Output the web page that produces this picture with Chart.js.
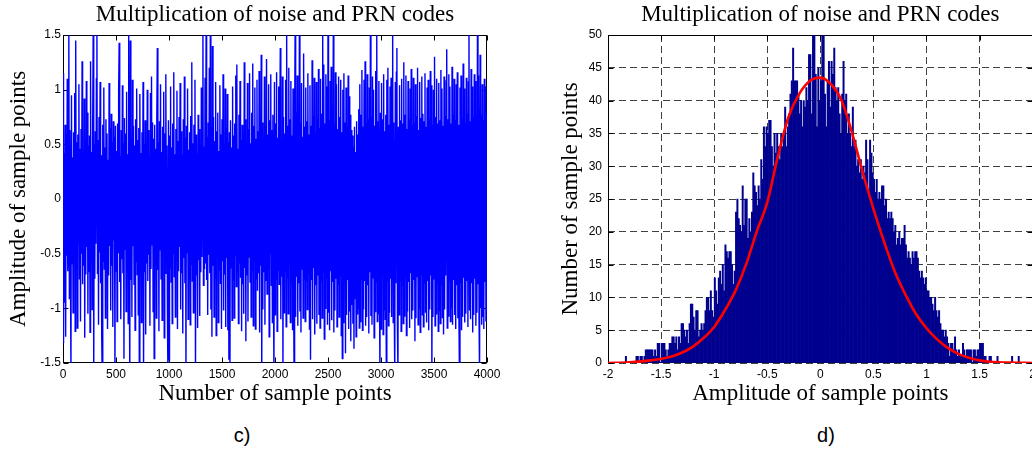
<!DOCTYPE html>
<html>
<head>
<meta charset="utf-8">
<script src="https://cdn.jsdelivr.net/npm/chart.js@4/dist/chart.umd.min.js"></script>
<style>
    body { margin: 0; background: #fff; width: 1032px; height: 474px; overflow: hidden; position: relative; }
    canvas { position: absolute; top: 0; }
    #noiseChart { left: 0; }
    #histChart { left: 548px; }
    .caption { position: absolute; top: 424px; font-family: 'Liberation Sans', Arial, sans-serif; font-size: 20px; color: #000; transform: translateX(-50%); }
</style>
</head>
<body>
<canvas id="noiseChart" width="515" height="418" style="width:515px;height:418px"></canvas>
<canvas id="histChart" width="492" height="418" style="width:492px;height:418px"></canvas>
<div class="caption" style="left:242px">c)</div>
<div class="caption" style="left:826px">d)</div>
<script>
const chartTitle = 'Multiplication of noise and PRN codes';

// c) noise x PRN product, one value every 5 samples (envelope read from the plot)
const sampleStep = 5;
const noiseValues = [
    1.15,-1.32,0.42,-0.95,0.68,-1.26,0.47,-0.52,1.10,-0.66,-0.44,1.58,-0.91,0.63,-0.55,-1.62,0.95,-0.59,0.38,-1.04,
    0.61,-0.46,0.97,-1.21,1.45,-0.63,0.52,-1.18,0.59,-0.41,1.05,-0.73,0.46,-1.12,0.64,-0.50,1.26,-0.78,0.37,-0.61,
    0.92,-1.27,0.51,-0.69,1.08,-0.44,0.79,-1.05,0.49,-0.67,0.58,-1.22,1.26,-0.54,0.43,-1.01,0.66,1.55,-1.62,0.50,
    -0.73,0.62,-0.41,1.10,1.56,-0.68,0.54,-1.15,0.75,-0.49,1.07,-0.77,0.40,-1.24,-1.61,0.68,-0.57,1.02,-0.64,0.47,
    -1.09,0.73,-0.52,0.60,-1.19,0.36,-0.70,1.06,-0.43,0.65,-1.02,0.78,-0.61,0.52,-1.17,0.71,-0.38,0.57,-1.63,0.67,
    -0.66,0.44,-1.12,0.69,-0.49,1.00,1.43,-0.76,0.39,-1.10,0.63,-0.55,1.04,-0.68,0.51,-1.46,0.74,-0.46,0.60,-1.03,
    0.98,-0.62,0.41,-1.14,1.55,-0.51,-1.62,1.45,-0.74,0.56,-1.08,1.09,-0.43,0.67,-0.78,0.49,-1.20,0.73,-0.57,1.01,
    -0.69,0.54,-1.06,0.65,-1.61,0.96,-0.48,0.42,-1.13,0.61,-0.72,1.07,-1.60,0.50,-0.67,0.72,-1.24,0.46,-0.59,1.00,
    -0.75,0.63,-0.51,0.38,-1.16,0.97,-0.64,1.12,-0.42,0.70,-1.03,0.55,-1.46,0.68,-0.59,0.46,-1.09,0.74,1.38,-0.65,
    0.52,-1.21,0.71,-0.47,1.05,-0.73,0.43,-1.11,0.66,-0.54,0.98,-1.27,0.60,-0.68,1.14,-0.40,0.49,-1.05,-1.62,0.72,
    -1.47,0.58,-0.63,1.03,-0.76,0.47,-1.14,0.69,-0.50,1.16,-0.71,0.41,-1.08,0.64,-0.57,0.99,-1.19,0.53,-0.66,0.75,
    -0.44,1.06,-1.01,0.62,-0.68,0.40,-1.23,0.73,-0.54,1.12,-0.77,0.56,-1.62,0.67,-0.49,1.01,-1.10,0.45,-0.73,0.61,
    -1.15,0.76,-0.60,1.25,-0.75,0.51,-1.04,0.68,-0.46,1.09,-1.63,0.59,-0.70,0.42,-1.18,0.77,-0.56,0.64,-1.07,0.50,
    -0.67,1.02,-0.53,0.71,1.56,-0.79,0.48,-0.64,1.11,-0.59,1.57,-0.74,0.57,-1.06,0.70,-0.51,1.20,-0.68,1.56,-1.01,
    0.66,-1.26,1.40,-0.61,0.75,-1.08,0.53,-0.72,1.07,-1.25,0.62,-0.49,0.79,-1.13,0.44,-0.65,1.04,-0.77,0.59,-1.19,
    0.73,-0.57,1.14,-1.02,0.50,-0.69,1.01,-1.17,0.65,-0.54,0.96,-1.20,0.52,-1.47,0.61,-1.62,0.72,-0.63,0.47,-1.11,
    1.03,-0.74,0.58,-1.09,0.69,-0.51,1.13,-0.80,1.23,-0.66,0.46,-1.14,0.77,-0.59,1.08,-0.72,0.54,-1.21,0.68,-0.78,
    0.60,-1.05,1.25,-0.63,0.73,-1.30,0.49,-0.70,1.06,-1.12,0.64,-0.53,1.15,-0.76,0.51,-1.08,0.79,-0.65,1.24,-1.16,
    0.67,-0.56,1.02,-1.19,0.55,-0.73,1.09,-0.84,0.62,-0.68,1.17,-1.22,0.74,-0.61,1.32,-1.62,0.70,-1.01,0.53,-0.67,
    1.12,-1.15,0.66,-0.75,1.28,-0.87,0.59,-0.64,1.05,-1.26,0.72,-0.50,1.14,-0.79,0.63,-1.13,0.77,-0.67,-1.63,1.07,
    -1.06,0.69,-0.73,1.16,-1.21,0.56,-0.65,1.03,-0.78,0.64,1.38,-1.10,0.51,-0.71,1.12,-1.62,0.75,-1.04,0.60,-0.66,
    1.09,-1.17,1.56,-0.72,0.67,-1.05,1.20,-0.60,0.73,-1.13,1.08,-0.76,0.58,-1.20,1.01,-0.69,-1.62,0.65,1.57,-1.08,
    0.79,-0.71,1.13,-1.16,0.62,-0.77,1.56,-1.03,0.70,-1.22,1.06,-0.64,0.57,-1.09,1.33,-0.73,0.66,-1.12,1.02,-0.75,
    0.71,-1.01,1.15,-0.68,0.59,-1.19,1.04,-1.47,0.67,-0.74,1.27,-1.10,0.76,-0.63,1.11,-1.24,0.60,-0.79,1.07,-1.14,
    0.73,-0.70,1.19,-1.06,0.65,-1.18,1.10,-0.75,0.78,-1.09,1.56,-0.67,1.23,-1.28,0.69,-1.00,1.14,-0.72,1.03,-1.15,
    1.57,-1.04,0.72,-1.20,1.08,-0.66,1.21,-1.11,0.77,-0.76,1.56,-1.22,0.68,-1.02,1.16,-0.73,1.05,-1.17,0.64,-0.78,
    1.12,-1.08,0.75,-0.70,1.09,-1.25,0.61,-1.46,1.00,-1.13,1.15,-0.68,0.70,-1.41,1.02,-1.06,0.66,-0.74,1.13,-1.19,
    0.94,-1.03,0.77,-1.30,0.63,-0.97,0.58,-1.14,0.48,-1.37,0.66,-0.91,0.43,-1.26,0.71,-1.05,0.59,-1.00,0.82,-1.18,
    1.05,-1.12,0.77,-0.73,1.18,-1.20,0.66,-1.01,1.09,-0.75,1.26,-1.16,0.70,-1.08,1.14,-0.79,0.73,-1.23,1.02,-0.67,
    1.56,-1.07,0.75,-1.15,1.12,-0.72,1.00,-1.27,0.67,-1.03,1.17,-0.76,1.57,-1.12,0.71,-1.05,1.08,-0.74,-1.62,0.79,
    -1.19,1.06,-0.70,0.73,-1.24,1.14,-1.01,0.62,-1.10,0.77,-1.63,1.09,-0.75,1.20,-1.16,0.68,-1.04,1.03,-0.73,1.11,
    -1.08,0.75,1.56,-1.13,0.70,-1.02,-1.62,1.07,-0.77,1.16,1.38,-1.19,-1.61,0.66,-1.06,1.04,-0.74,0.72,-1.21,1.10,
    -0.79,0.69,-1.14,1.25,-1.07,0.77,-0.72,1.13,-1.25,0.64,-1.03,1.08,-0.76,0.73,-1.18,1.01,-0.68,1.19,-1.10,0.67,
    -1.02,1.11,-0.74,0.70,-1.30,1.05,-1.09,0.76,-0.71,1.20,-1.15,0.63,-1.00,1.07,-1.22,0.74,-0.69,1.12,-1.06,0.78,
    -1.17,0.71,-0.77,1.15,-1.04,0.66,-1.13,1.02,-0.75,1.09,-1.20,0.73,-1.01,1.17,-0.70,1.04,-1.63,0.68,-1.08,1.00,
    -0.73,1.30,-1.16,0.75,-1.05,1.10,-0.76,0.69,-1.21,1.06,-1.02,0.72,-1.14,1.18,-0.78,1.01,-1.09,0.67,-1.24,1.12,
    -1.01,0.76,-0.70,1.08,1.37,-1.18,0.73,-1.07,1.14,-0.75,1.03,-1.12,0.69,-1.00,1.21,-1.15,0.77,-0.74,1.10,-1.06,
    0.72,-1.19,1.05,-0.79,1.16,-1.09,0.68,-1.04,-1.62,1.02,-0.77,1.13,-1.20,0.74,-1.08,1.24,-0.72,1.01,-1.13,0.70,
    -1.05,1.11,-0.75,0.78,-1.17,1.07,1.56,-1.02,0.71,-1.10,1.19,-0.77,1.03,-1.22,0.75,-1.06,1.14,-0.73,1.08,-1.16,
    0.76,-1.04,1.57,-0.78,1.13,-1.11,-1.62,1.32,-1.00,0.77,-1.15,1.05,-1.08,0.72,-1.19,1.10,-0.76,1.03,-1.12,-0.88,
    0.78
];

// d) histogram: bins of width 0.0125 starting at -1.85
const binStart = -1.85;
const binWidth = 0.0125;
const binCounts = [
    0,1,0,0,0,0,0,0,0,1,  1,0,1,1,0,1,2,2,2,2,  2,2,1,2,1,3,3,0,3,3,
    3,2,1,2,3,3,4,4,3,4,  2,4,3,6,6,5,4,5,3,6,  9,9,7,5,8,8,4,5,6,5,
    6,8,10,10,8,11,8,7,13,11,  9,13,14,12,15,11,18,17,16,17,  17,15,12,14,23,25,22,21,20,27,
    21,25,25,19,22,20,23,29,27,26,  24,27,25,31,28,36,33,36,35,37,  37,33,30,35,32,35,33,31,35,33,
    35,39,33,36,38,41,43,48,43,43,  43,41,38,40,36,40,39,42,40,47,  47,38,51,50,44,36,45,40,43,51,
    52,41,36,43,46,39,46,44,48,42,  40,42,38,35,41,46,40,41,35,38,  35,33,39,33,34,30,31,29,31,28,
    30,29,34,31,26,34,32,29,28,26,  28,25,26,25,27,27,24,25,22,23,  22,23,22,20,21,18,19,20,18,19,
    19,21,18,16,17,16,15,17,16,17,  17,16,14,13,14,13,12,13,11,11,  10,10,9,8,10,8,7,8,6,5,
    5,4,5,4,3,1,3,3,2,4,  2,1,2,1,1,3,2,1,2,2,  2,2,0,2,2,1,2,2,3,3,
    3,1,1,0,0,1,1,0,0,0,  0,1,0,0,0,0,0,0,0,0,  0,0,1,0,0,0,0,1,0,0
];

// fitted normal curve
const curveX = [-2, -1.8, -1.6, -1.4, -1.3, -1.2, -1.1, -1.0, -0.9, -0.8, -0.7, -0.6, -0.5, -0.4, -0.3, -0.2, -0.1, 0,
    0.1, 0.2, 0.3, 0.4, 0.5, 0.6, 0.7, 0.8, 0.9, 1.0, 1.1, 1.2, 1.3, 1.4, 1.5, 1.6, 1.8, 2];
const curveY = [0, 0.1, 0.4, 1.0, 1.6, 2.5, 3.8, 5.5, 8, 11, 15, 20, 24.5, 31.5, 37.5, 41, 43, 43.5,
    42.5, 40, 35, 29, 23.5, 18.5, 14, 10.5, 7.5, 5.3, 3.6, 2.3, 1.4, 0.8, 0.4, 0.2, 0.05, 0];

const serif = { family: "'Liberation Serif', 'Times New Roman', serif", size: 23, weight: 'normal' };
const sans = { family: "'Liberation Sans', Arial, sans-serif", size: 12 };

// MATLAB style box with inward tick marks on all four sides
const matlabFrame = {
    id: 'matlabFrame',
    beforeDatasetsDraw(chart) {
        const { ctx, chartArea: a, scales } = chart;
        const l = Math.round(a.left) + 0.5, r = Math.round(a.right) - 0.5;
        const t = Math.round(a.top) + 0.5, b = Math.round(a.bottom) - 0.5;
        ctx.save();
        ctx.strokeStyle = '#000';
        ctx.lineWidth = 1;
        ctx.strokeRect(l, t, r - l, b - t);
        ctx.beginPath();
        scales.x.ticks.forEach(tk => {
            const px = Math.round(scales.x.getPixelForValue(tk.value)) + 0.5;
            ctx.moveTo(px, b); ctx.lineTo(px, b - 5);
            ctx.moveTo(px, t); ctx.lineTo(px, t + 5);
        });
        scales.y.ticks.forEach(tk => {
            const py = Math.round(scales.y.getPixelForValue(tk.value)) + 0.5;
            ctx.moveTo(l, py); ctx.lineTo(l + 5, py);
            ctx.moveTo(r, py); ctx.lineTo(r - 5, py);
        });
        ctx.stroke();
        ctx.restore();
    }
};

function axisTitle(text, pad) {
    return { display: true, text: text, color: '#000', font: serif, padding: pad };
}

const noiseChart = new Chart(document.getElementById('noiseChart'), {
    type: 'line',
    data: {
        datasets: [{
            data: noiseValues.map((v, i) => ({ x: i * sampleStep, y: v })),
            borderColor: '#0000ff',
            borderWidth: 1.4,
            pointRadius: 0,
            tension: 0
        }]
    },
    options: {
        responsive: false,
        animation: false,
        layout: { autoPadding: false, padding: { left: 0, right: 28, top: 0, bottom: 0 } },
        plugins: {
            legend: { display: false },
            tooltip: { enabled: false },
            title: { display: true, text: chartTitle, color: '#000', font: serif, fullSize: false, padding: { top: 1, bottom: 6.4 } }
        },
        scales: {
            x: {
                type: 'linear', min: 0, max: 4000,
                ticks: { stepSize: 500, color: '#000', font: sans, padding: 4, maxRotation: 0, callback: v => String(v) },
                grid: { display: false, drawTicks: false },
                border: { display: false },
                title: axisTitle('Number of sample points', { top: 0, bottom: 10 }),
                afterFit: s => { s.height = 55; }
            },
            y: {
                min: -1.5, max: 1.5,
                ticks: { stepSize: 0.5, color: '#000', font: sans, padding: 2, callback: v => String(v) },
                grid: { display: false, drawTicks: false },
                border: { display: false },
                title: axisTitle('Amplitude of sample points', { top: 5, bottom: 0 }),
                afterFit: s => { s.width = 63; }
            }
        }
    },
    plugins: [matlabFrame]
});

const histChart = new Chart(document.getElementById('histChart'), {
    type: 'bar',
    data: {
        datasets: [
            {
                type: 'line',
                data: curveX.map((x, i) => ({ x: x, y: curveY[i] })),
                borderColor: '#ff0000',
                borderWidth: 2.6,
                pointRadius: 0,
                cubicInterpolationMode: 'monotone',
                order: 0
            },
            {
                data: binCounts.map((c, i) => ({ x: binStart + binWidth * (i + 0.5), y: c })),
                backgroundColor: '#00008f',
                borderWidth: 0,
                barPercentage: 1,
                categoryPercentage: 1,
                order: 1
            }
        ]
    },
    options: {
        responsive: false,
        animation: false,
        layout: { autoPadding: false, padding: 0 },
        plugins: {
            legend: { display: false },
            tooltip: { enabled: false },
            title: { display: true, text: chartTitle, color: '#000', font: serif, fullSize: false, padding: { top: 1, bottom: 6.4 } }
        },
        scales: {
            x: {
                type: 'linear', min: -2, max: 2, offset: false,
                ticks: { stepSize: 0.5, color: '#000', font: sans, padding: 4, maxRotation: 0, callback: v => String(v) },
                grid: { color: 'rgba(0,0,0,0.75)', drawTicks: false, offset: false },
                border: { display: false, dash: [7, 4] },
                title: axisTitle('Amplitude of sample points', { top: 0, bottom: 10 }),
                afterFit: s => { s.height = 55; }
            },
            y: {
                min: 0, max: 50,
                ticks: { stepSize: 5, color: '#000', font: sans, padding: 6, callback: v => String(v) },
                grid: { color: 'rgba(0,0,0,0.75)', drawTicks: false },
                border: { display: false, dash: [7, 4] },
                title: axisTitle('Number of sample points', { top: 9, bottom: 0 }),
                afterFit: s => { s.width = 60; }
            }
        }
    },
    plugins: [matlabFrame]
});
</script>
</body>
</html>
